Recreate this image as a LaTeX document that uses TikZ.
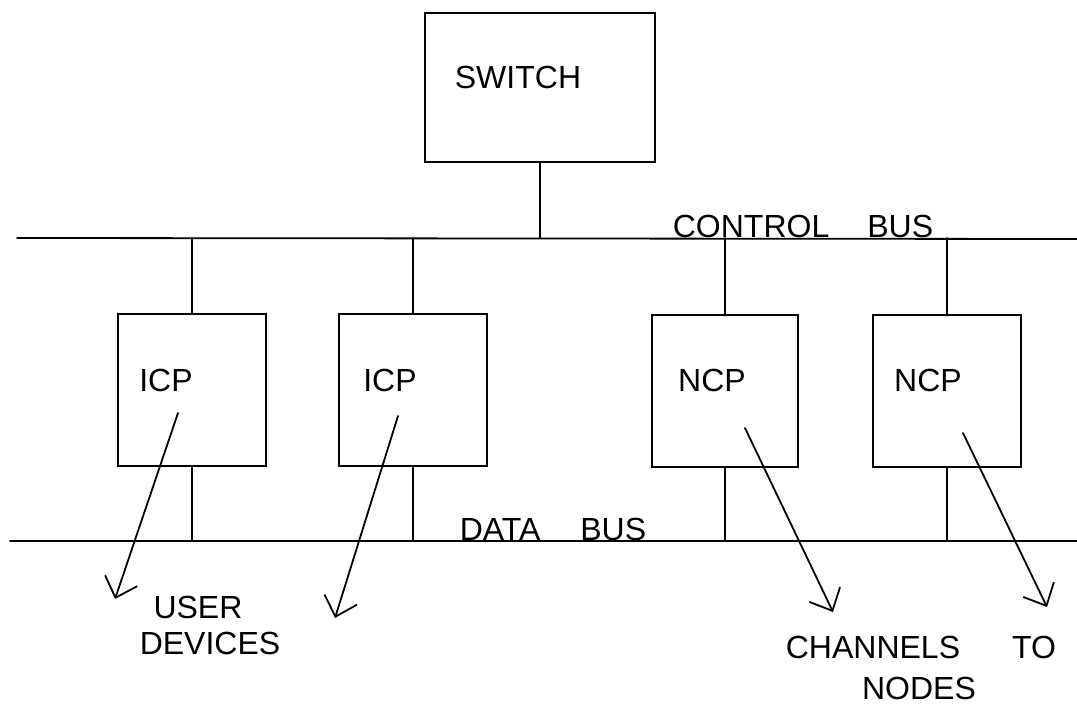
\documentclass[tikz,border=0pt]{standalone}
\usepackage{fontspec}
\setmainfont{Liberation Sans}
\usetikzlibrary{arrows.meta}
\begin{document}
\begin{tikzpicture}[x=1pt,y=-1pt,
  line width=1.8pt, line cap=round,
  box/.style={draw, minimum width=#1, minimum height=152pt, inner sep=0pt},
  lbl/.style={font=\fontsize{32}{38}\selectfont, inner sep=0pt},
  ptr/.style={-{Straight Barb[length=18pt,width=34pt,line width=1.8pt]}}]
\useasboundingbox (0,0) rectangle (1077,707);
% buses
\coordinate (cbL) at (17,238);
\coordinate (cbR) at (1077,239);
\coordinate (dbL) at (10,541);
\coordinate (dbR) at (1077,541);
\draw (cbL) -- (cbR);
\draw (dbL) -- (dbR);
% boxes
\node[box=230pt, minimum height=149pt] (sw) at (540,87.5) {};
\node[box=148pt] (icp1) at (192,390) {};
\node[box=148pt] (icp2) at (413,390) {};
\node[box=146pt] (ncp1) at (725,391) {};
\node[box=148pt] (ncp2) at (947,391) {};
% box labels
\node[lbl] (swl) at (518,77) {SWITCH};
\node[lbl] (icp1l) at (166,380) {ICP};
\node[lbl] (icp2l) at (390,380) {ICP};
\node[lbl] (ncp1l) at (712,380) {NCP};
\node[lbl] (ncp2l) at (928,380) {NCP};
% connections to buses
\draw (sw.south) -- (sw.south |- cbL);
\foreach \n in {icp1,icp2,ncp1,ncp2}{
  \draw (\n.north) -- (\n.north |- cbL);
  \draw (\n.south) -- (\n.south |- dbL);
}
% bus labels
\node[lbl, anchor=base] (cbl) at (803,237) {CONTROL\hspace{38pt}BUS};
\node[lbl, anchor=base] (dbl) at (553,540) {DATA\hspace{40pt}BUS};
% outer labels
\node[lbl] (user) at (198,607) {USER};
\node[lbl] (dev) at (210,643) {DEVICES};
\node[lbl] (chan) at (873,647) {CHANNELS};
\node[lbl] (to) at (1034,647) {TO};
\node[lbl] (nodes) at (919,688) {NODES};
% pointers
\coordinate (a1s) at (178,413); \coordinate (a1e) at (115,599);
\coordinate (a2s) at (398,416); \coordinate (a2e) at (335,618);
\coordinate (a3s) at (745,428); \coordinate (a3e) at (833,612);
\coordinate (a4s) at (963,433); \coordinate (a4e) at (1047,607);
\draw[ptr] (a1s) -- (a1e);
\draw[ptr] (a2s) -- (a2e);
\draw[ptr] (a3s) -- (a3e);
\draw[ptr] (a4s) -- (a4e);
\end{tikzpicture}
\end{document}
